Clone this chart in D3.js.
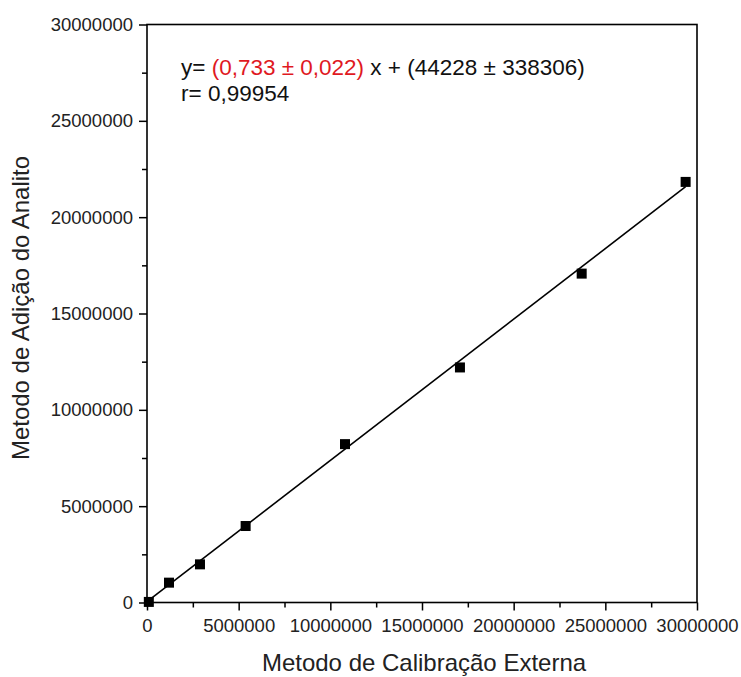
<!DOCTYPE html>
<html><head><meta charset="utf-8">
<script src="https://cdn.jsdelivr.net/npm/d3@7"></script>
<style>body{margin:0;background:#fff}svg{display:block}text{font-family:"Liberation Sans",Arial,sans-serif}</style>
</head><body>
<svg id="c" width="741" height="677"></svg>
<script>
const xValues = [0.1e6, 1.2e6, 2.89e6, 5.38e6, 10.8e6, 17.07e6, 23.71e6, 29.38e6];
const yValues = [0.03e6, 1.03e6, 1.98e6, 3.97e6, 8.22e6, 12.2e6, 17.07e6, 21.83e6];
const xTicks = [0, 5e6, 10e6, 15e6, 20e6, 25e6, 30e6];
const yTicks = [0, 5e6, 10e6, 15e6, 20e6, 25e6, 30e6];
const slope = 0.733, intercept = 44228;
const fitRange = [0, 29.38e6];
const xTitle = "Metodo de Calibração Externa";
const yTitle = "Metodo de Adição do Analito";

const svg = d3.select("#c");
const L = 147, R = 697, T = 24.5, B = 602.5;
const x = d3.scaleLinear().domain([0, 30e6]).range([L, R]);
const y = d3.scaleLinear().domain([0, 30e6]).range([B, T]);

const minorX = d3.range(2.5e6, 30e6, 5e6);
const minorY = d3.range(2.5e6, 30e6, 5e6);

const gx = svg.append("g").attr("transform", `translate(0,${B})`);
gx.call(d3.axisBottom(x).tickValues(minorX).tickSize(5).tickFormat(""));
const gx2 = svg.append("g").attr("transform", `translate(0,${B})`);
gx2.call(d3.axisBottom(x).tickValues(xTicks).tickSize(8).tickPadding(8).tickFormat(d3.format("d")));
const gy = svg.append("g").attr("transform", `translate(${L},0)`);
gy.call(d3.axisLeft(y).tickValues(minorY).tickSize(5).tickFormat(""));
const gy2 = svg.append("g").attr("transform", `translate(${L},0)`);
gy2.call(d3.axisLeft(y).tickValues(yTicks).tickSize(8).tickPadding(6).tickFormat(d3.format("d")));
svg.selectAll(".domain").remove();
svg.selectAll(".tick line").attr("stroke", "#000").attr("stroke-width", 1.5);
svg.selectAll(".tick text").attr("font-size", 18.5).attr("fill", "#222").attr("font-family", '"Liberation Sans",Arial,sans-serif');

svg.append("rect").attr("x", L).attr("y", T).attr("width", R - L).attr("height", B - T)
  .attr("fill", "none").attr("stroke", "#000").attr("stroke-width", 1.6);

svg.append("line")
  .attr("x1", x(fitRange[0])).attr("y1", y(slope * fitRange[0] + intercept))
  .attr("x2", x(fitRange[1])).attr("y2", y(slope * fitRange[1] + intercept))
  .attr("stroke", "#000").attr("stroke-width", 1.6);

const s = 10;
svg.append("g").selectAll("rect").data(xValues).join("rect")
  .attr("x", (d) => x(d) - s / 2).attr("y", (d, i) => y(yValues[i]) - s / 2)
  .attr("width", s).attr("height", s).attr("fill", "#000");

const eq = svg.append("text").attr("x", 181).attr("y", 75).attr("font-size", 22.5).attr("fill", "#111");
eq.append("tspan").text("y= ");
eq.append("tspan").attr("fill", "#e0191f").text("(0,733 ± 0,022)");
eq.append("tspan").text(" x + (44228 ± 338306)");
svg.append("text").attr("x", 181).attr("y", 101).attr("font-size", 22.5).attr("fill", "#111").text("r= 0,99954");

svg.append("text").attr("x", 424).attr("y", 671).attr("text-anchor", "middle")
  .attr("font-size", 24).attr("fill", "#222").text(xTitle);
svg.append("text").attr("transform", `translate(29,308) rotate(-90)`).attr("text-anchor", "middle")
  .attr("font-size", 24).attr("fill", "#222").text(yTitle);
</script>
</body></html>
